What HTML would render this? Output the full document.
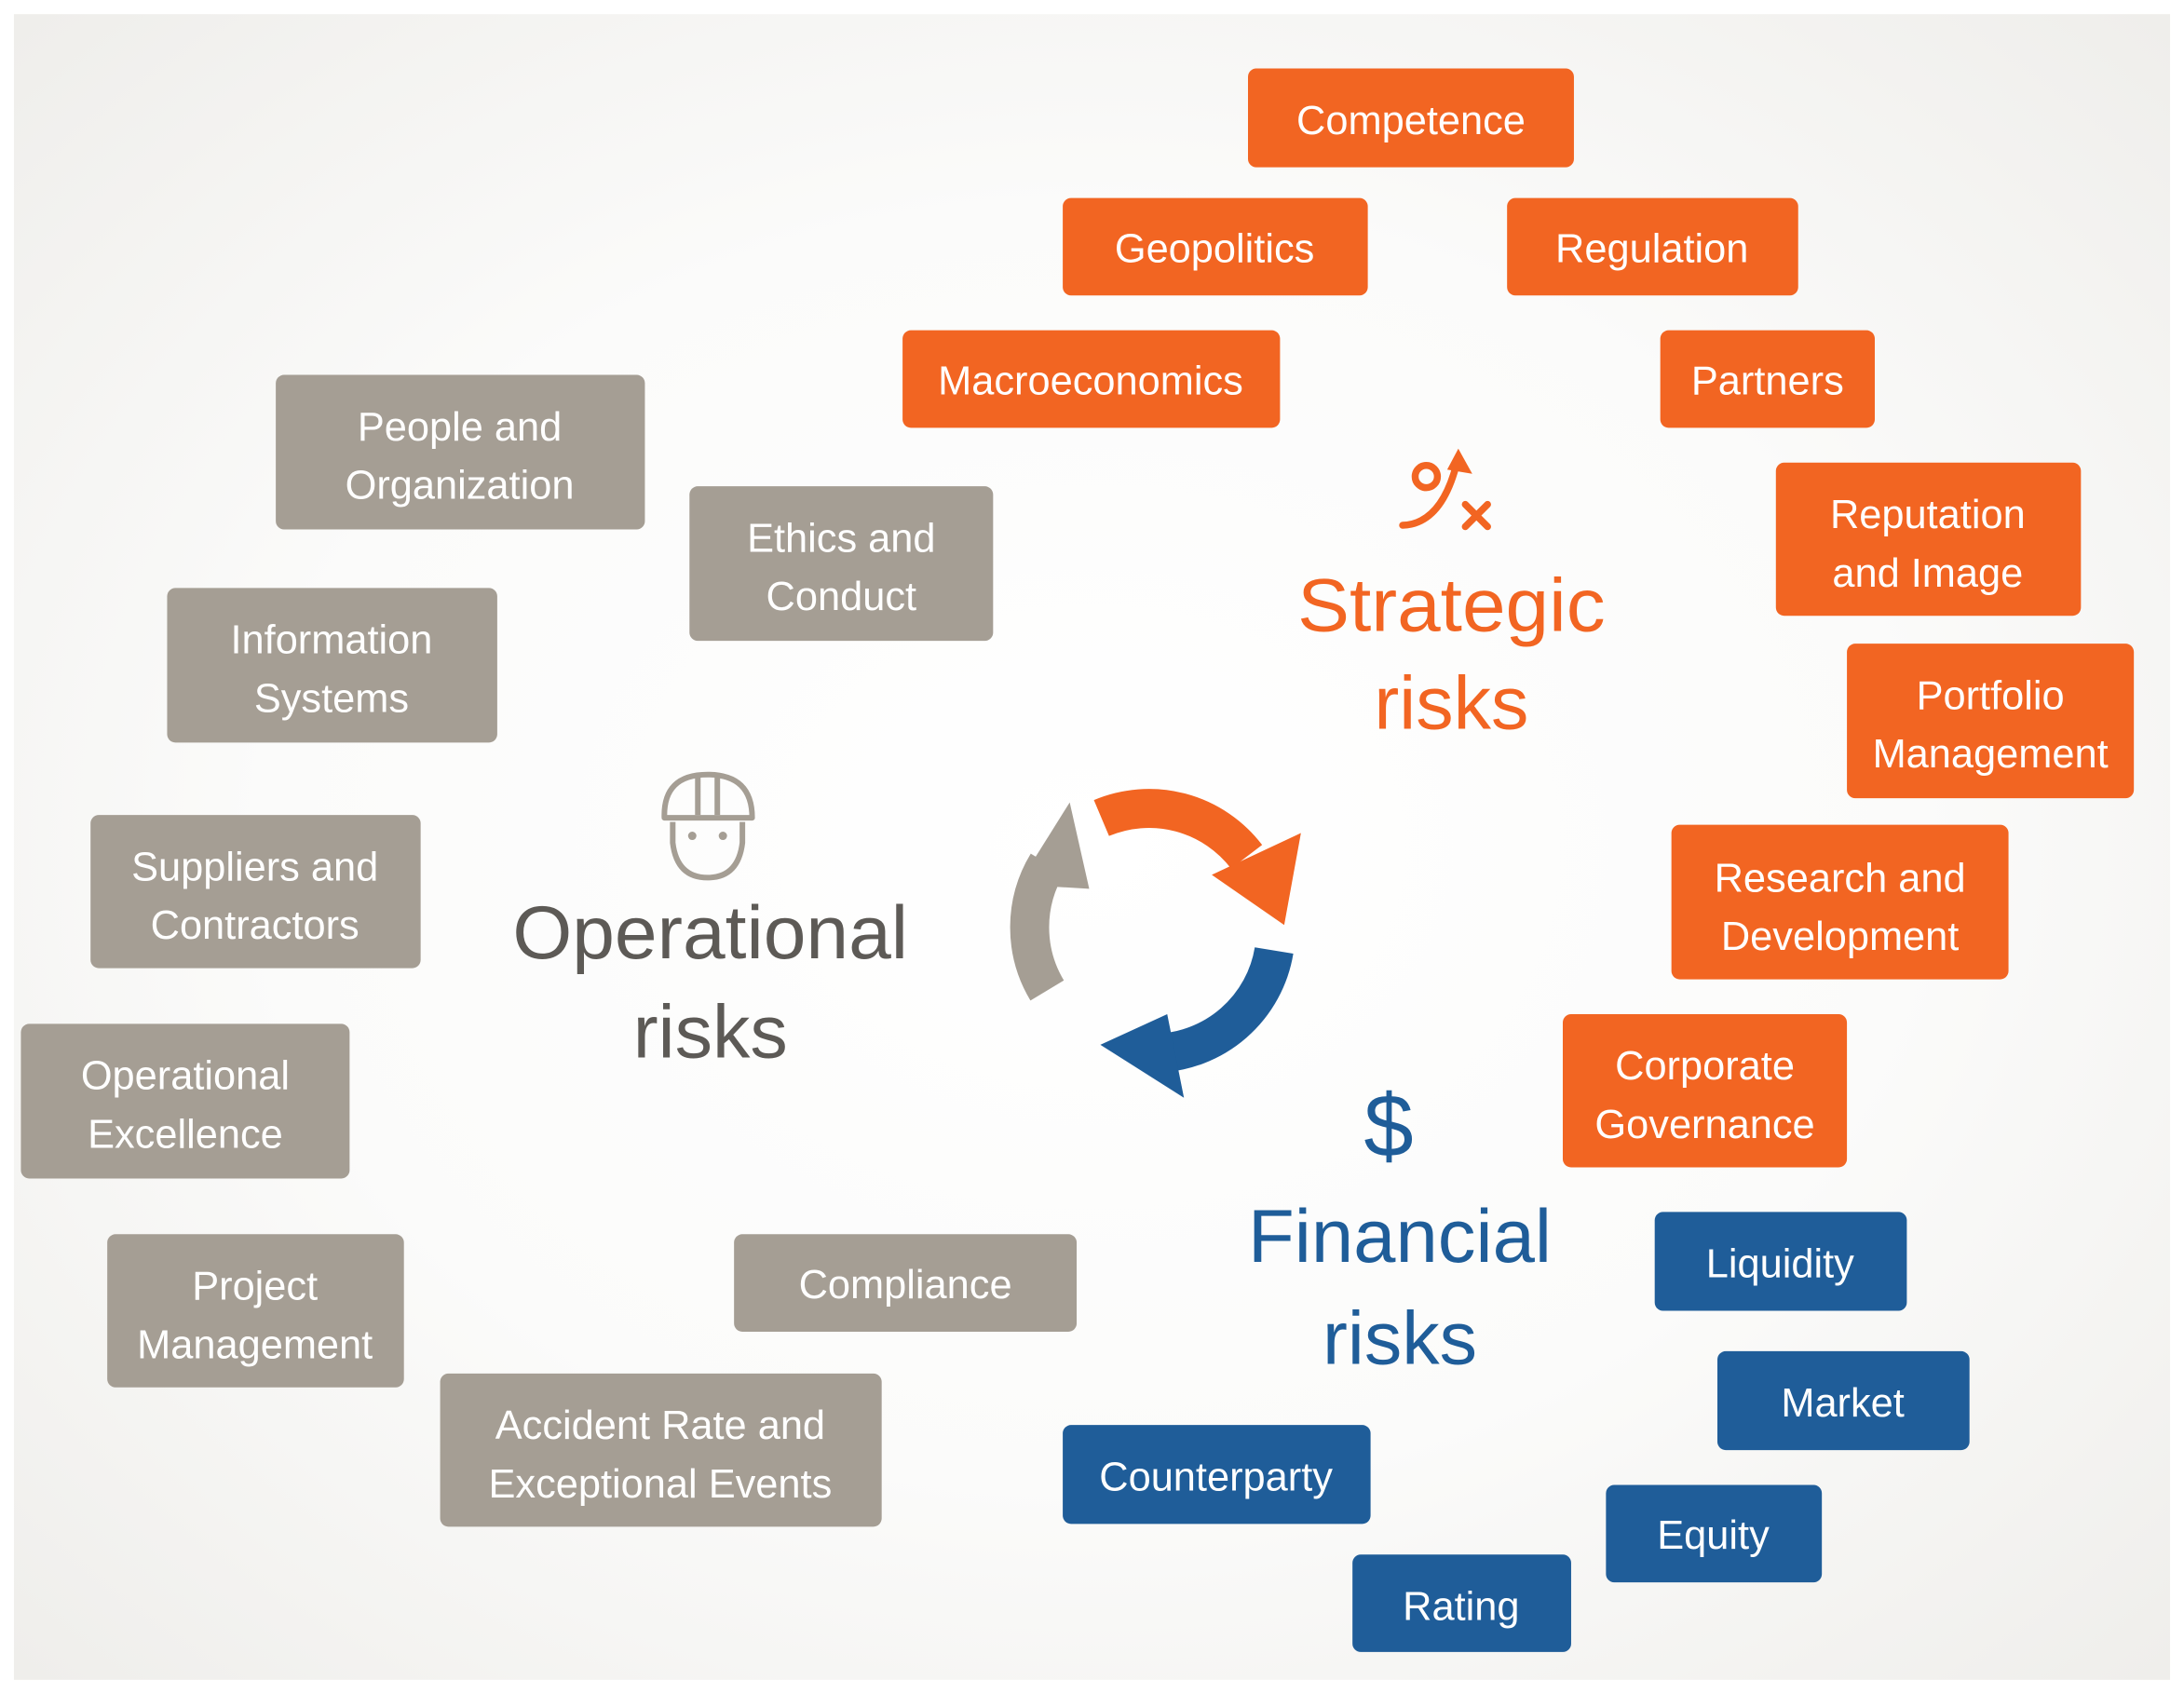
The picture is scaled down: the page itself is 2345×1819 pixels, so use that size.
<!DOCTYPE html>
<html><head><meta charset="utf-8"><style>
html,body{margin:0;padding:0;background:#fff;}
svg{display:block;}
text{font-family:"Liberation Sans",sans-serif;}
.b{fill:#fff;font-size:29px;text-anchor:middle;}
</style></head><body>
<svg width="2345" height="1819" viewBox="0 0 1568 1216" xmlns="http://www.w3.org/2000/svg">
<defs>
<radialGradient id="bg" cx="0.5" cy="0.5" r="0.7">
<stop offset="0" stop-color="#ffffff"/>
<stop offset="0.55" stop-color="#fbfbfa"/>
<stop offset="1" stop-color="#efeeeb"/>
</radialGradient>
</defs>
<rect x="0" y="0" width="1568" height="1216" fill="#fff"/>
<rect x="10" y="10" width="1548" height="1196" fill="url(#bg)"/>

<g fill="#f26522">
<rect x="896" y="49" width="234" height="71" rx="6"/>
<rect x="763" y="142" width="219" height="70" rx="6"/>
<rect x="1082" y="142" width="209" height="70" rx="6"/>
<rect x="648" y="237" width="271" height="70" rx="6"/>
<rect x="1192" y="237" width="154" height="70" rx="6"/>
<rect x="1275" y="332" width="219" height="110" rx="6"/>
<rect x="1326" y="462" width="206" height="111" rx="6"/>
<rect x="1200" y="592" width="242" height="111" rx="6"/>
<rect x="1122" y="728" width="204" height="110" rx="6"/>
</g>
<g fill="#1f5d99">
<rect x="1188" y="870" width="181" height="71" rx="6"/>
<rect x="1233" y="970" width="181" height="71" rx="6"/>
<rect x="763" y="1023" width="221" height="71" rx="6"/>
<rect x="1153" y="1066" width="155" height="70" rx="6"/>
<rect x="971" y="1116" width="157" height="70" rx="6"/>
</g>
<g fill="#a59e94">
<rect x="198" y="269" width="265" height="111" rx="6"/>
<rect x="495" y="349" width="218" height="111" rx="6"/>
<rect x="120" y="422" width="237" height="111" rx="6"/>
<rect x="65" y="585" width="237" height="110" rx="6"/>
<rect x="15" y="735" width="236" height="111" rx="6"/>
<rect x="77" y="886" width="213" height="110" rx="6"/>
<rect x="527" y="886" width="246" height="70" rx="6"/>
<rect x="316" y="986" width="317" height="110" rx="6"/>
</g>

<g class="b">
<text class="b" x="1013" y="96">Competence</text>
<text class="b" x="872" y="188">Geopolitics</text>
<text class="b" x="1186" y="188">Regulation</text>
<text class="b" x="783" y="283">Macroeconomics</text>
<text class="b" x="1269" y="283">Partners</text>
<text class="b" x="1384" y="379">Reputation</text>
<text class="b" x="1384" y="421">and Image</text>
<text class="b" x="1429" y="509">Portfolio</text>
<text class="b" x="1429" y="551">Management</text>
<text class="b" x="1321" y="640">Research and</text>
<text class="b" x="1321" y="682">Development</text>
<text class="b" x="1224" y="775">Corporate</text>
<text class="b" x="1224" y="817">Governance</text>
<text class="b" x="1278" y="917">Liquidity</text>
<text class="b" x="1323" y="1017">Market</text>
<text class="b" x="873" y="1070">Counterparty</text>
<text class="b" x="1230" y="1112">Equity</text>
<text class="b" x="1049" y="1163">Rating</text>
<text class="b" x="330" y="316">People and</text>
<text class="b" x="330" y="358">Organization</text>
<text class="b" x="604" y="396">Ethics and</text>
<text class="b" x="604" y="438">Conduct</text>
<text class="b" x="238" y="469">Information</text>
<text class="b" x="238" y="511">Systems</text>
<text class="b" x="183" y="632">Suppliers and</text>
<text class="b" x="183" y="674">Contractors</text>
<text class="b" x="133" y="782">Operational</text>
<text class="b" x="133" y="824">Excellence</text>
<text class="b" x="183" y="933">Project</text>
<text class="b" x="183" y="975">Management</text>
<text class="b" x="650" y="932">Compliance</text>
<text class="b" x="474" y="1033">Accident Rate and</text>
<text class="b" x="474" y="1075">Exceptional Events</text>
</g>

<g font-size="54" text-anchor="middle">
<text x="1042" y="453" fill="#f26522" textLength="221" lengthAdjust="spacingAndGlyphs">Strategic</text>
<text x="1042" y="523" fill="#f26522">risks</text>
<text x="510" y="688" fill="#5d5a56" textLength="284" lengthAdjust="spacingAndGlyphs">Operational</text>
<text x="510" y="759" fill="#5d5a56">risks</text>
<text x="1005" y="906" fill="#1f5d99" textLength="218" lengthAdjust="spacingAndGlyphs">Financial</text>
<text x="1005" y="979" fill="#1f5d99">risks</text>
<text x="997" y="830" font-size="64" fill="#1f5d99">$</text>
</g>

<g stroke="#f26522" stroke-width="5" fill="none" stroke-linecap="round">
<circle cx="1024" cy="342" r="8"/>
<path d="M1007 377 Q1035 376 1046 332"/>
<path d="M1052 362 L1068 378 M1068 362 L1052 378"/>
</g>
<path d="M1047 322 L1057 340 L1039 337 Z" fill="#f26522"/>

<g stroke="#a59e94" stroke-width="4" fill="none" stroke-linejoin="round">
<path d="M477 587 Q476 556 508 556 Q540 556 540 587 Z"/>
<path d="M501 557 V585 M515 557 V585"/>
<path d="M483 590 V605 Q486 630 508 630 Q530 630 533 605 V590"/>
</g>
<circle cx="497" cy="600" r="3" fill="#a59e94"/>
<circle cx="519" cy="600" r="3" fill="#a59e94"/>

<g fill="none" stroke-width="28">
<path d="M790.8 587.2 A88 88 0 0 1 895 615" stroke="#f26522"/>
<path d="M914.7 682.3 A88 88 0 0 1 830 756" stroke="#1f5d99"/>
<path d="M751.8 711 A88 88 0 0 1 752 620" stroke="#a59e94"/>
</g>
<path d="M870 628 L934 598 L922 664 Z" fill="#f26522"/>
<path d="M838 728 L850 788 L790 750 Z" fill="#1f5d99"/>
<path d="M731 635 L782 638 L768 576 Z" fill="#a59e94"/>
</svg>
</body></html>
